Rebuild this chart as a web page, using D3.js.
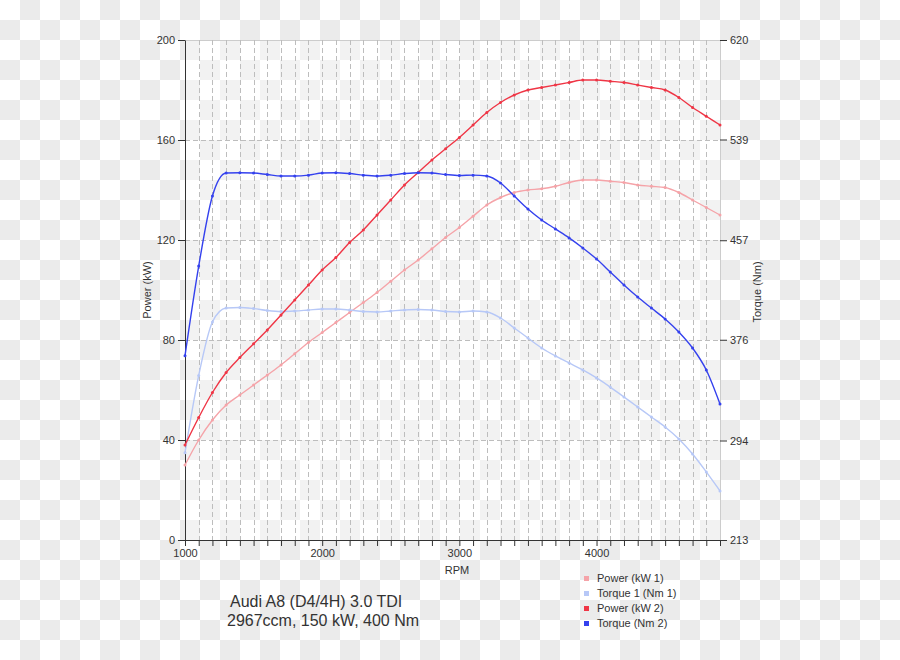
<!DOCTYPE html>
<html>
<head>
<meta charset="utf-8">
<script src="https://cdn.jsdelivr.net/npm/d3@7/dist/d3.min.js"></script>
<style>
    body { margin: 0; background: #fff; }
    text { font-family: "Liberation Sans", Arial, sans-serif; fill: #333; }
</style>
</head>
<body>
<div id="chart"></div>
<script>
// Datos
const rpm = [1000, 1100, 1200, 1300, 1400, 1500, 1600, 1700, 1800, 1900,
             2000, 2100, 2200, 2300, 2400, 2500, 2600, 2700, 2800, 2900,
             3000, 3100, 3200, 3300, 3400, 3500, 3600, 3700, 3800, 3900,
             4000, 4100, 4200, 4300, 4400, 4500, 4600, 4700, 4800, 4900];

// Potencia original (kW 1)
const power1 = [30, 40, 48, 54, 58, 62, 66, 70, 74.5, 79,
                83, 87, 91, 95, 99, 103.5, 108, 112, 116.5, 121,
                125, 129.5, 134, 137, 139, 140, 140.5, 141.5, 143, 144,
                144, 143.5, 143, 142, 141.5, 141, 139, 136, 133, 130];

// Par original (Nm 1)
const torque1 = [284, 347, 390.5, 401.8, 402.3, 401.4, 399.8, 399, 399.4, 400.2,
                 401, 401, 400.2, 399, 398.6, 399.4, 400.2, 400.6, 400.2, 399,
                 398.6, 399.4, 398.6, 393.7, 385.6, 377.4, 369.3, 362.8, 357.1, 351.4,
                 344.9, 337.5, 329.4, 321.3, 313.1, 305, 295.2, 283, 268.4, 252.9];

// Potencia modificada (kW 2)
const power2 = [38, 49, 59, 67, 73, 78.5, 84, 90, 96, 102,
                108, 113, 119, 124, 130, 136, 142, 147, 152, 156.5,
                161, 166, 171, 175, 178, 180, 181, 182, 183, 184,
                184, 183.5, 183, 182, 181, 180, 177, 173, 169.5, 166];

// Par modificado (Nm 2)
const torque2 = [363, 436, 493, 511.7, 512, 511.7, 510.5, 509.3, 509.3, 510,
                 511.7, 512, 511.3, 510, 509.3, 510, 511.3, 512, 511.7, 510.5,
                 509.7, 510, 509.3, 503.6, 493, 482.4, 473.5, 466.2, 458.9, 450.7,
                 441.7, 431.2, 420.6, 410.8, 401.8, 392.9, 382.3, 369.3, 351.4, 323.7];

const powerTicks = [0, 40, 80, 120, 160, 200];
const torqueTicks = [213, 294, 376, 457, 539, 620];
const rpmLabels = [1000, 2000, 3000, 4000];

const legendNames = ["Power (kW 1)", "Torque 1 (Nm 1)", "Power (kW 2)", "Torque (Nm 2)"];
const titleLines = ["Audi A8 (D4/4H) 3.0 TDI", "2967ccm, 150 kW, 400 Nm"];

function drawChart() {
    const width = 900, height = 660;
    const left = 185, right = 720, top = 40, bottom = 540;

    const svg = d3.select("#chart").append("svg")
        .attr("width", width)
        .attr("height", height);

    // Fondo de cuadros (transparencia)
    const pattern = svg.append("defs").append("pattern")
        .attr("id", "checker")
        .attr("width", 40).attr("height", 40)
        .attr("patternUnits", "userSpaceOnUse");
    pattern.append("rect").attr("width", 40).attr("height", 40).attr("fill", "#fff");
    pattern.append("rect").attr("x", 20).attr("y", 0).attr("width", 20).attr("height", 20).attr("fill", "#ebebeb");
    pattern.append("rect").attr("x", 0).attr("y", 20).attr("width", 20).attr("height", 20).attr("fill", "#ebebeb");
    svg.append("rect").attr("width", width).attr("height", height).attr("fill", "url(#checker)");

    // Escalas
    const x = d3.scaleLinear().domain([1000, 4900]).range([left, right]);
    const yPower = d3.scaleLinear().domain([0, 200]).range([bottom, top]);
    const yTorque = d3.scaleLinear().domain([213, 620]).range([bottom, top]);

    // Área del gráfico
    svg.append("rect")
        .attr("x", left).attr("y", top)
        .attr("width", right - left).attr("height", bottom - top)
        .attr("fill", "#fff").attr("fill-opacity", 0.35);

    svg.append("line")
        .attr("x1", left).attr("x2", right)
        .attr("y1", top + 0.5).attr("y2", top + 0.5)
        .attr("stroke", "#ccc");

    // Rejilla discontinua
    const grid = svg.append("g")
        .attr("stroke", "#bdbdbd")
        .attr("stroke-dasharray", "5,3")
        .attr("shape-rendering", "crispEdges");

    grid.selectAll(".v")
        .data(rpm.slice(1, -1))
        .enter().append("line")
        .attr("x1", d => Math.round(x(d)) + 0.5).attr("x2", d => Math.round(x(d)) + 0.5)
        .attr("y1", top).attr("y2", bottom);

    grid.selectAll(".h")
        .data(powerTicks.slice(1, -1))
        .enter().append("line")
        .attr("x1", left).attr("x2", right)
        .attr("y1", d => yPower(d) + 0.5).attr("y2", d => yPower(d) + 0.5);

    // Ejes
    const axisLeft = svg.append("g")
        .attr("transform", `translate(${left},0)`)
        .call(d3.axisLeft(yPower).tickValues(powerTicks).tickSize(7).tickSizeOuter(0).tickPadding(3));

    const axisRight = svg.append("g")
        .attr("transform", `translate(${right},0)`)
        .call(d3.axisRight(yTorque).tickValues(torqueTicks).tickSize(7).tickSizeOuter(0).tickPadding(3));
    axisRight.select(".domain").attr("stroke", "#ccc");

    const axisBottom = svg.append("g")
        .attr("transform", `translate(0,${bottom})`)
        .call(d3.axisBottom(x).tickValues(rpm).tickSize(6).tickSizeOuter(0).tickPadding(3)
            .tickFormat(d => rpmLabels.includes(d) ? d : ""));

    [axisLeft, axisRight, axisBottom].forEach(ax => {
        ax.selectAll("text")
            .style("font-size", "11px")
            .style("font-family", "\"Liberation Sans\", Arial, sans-serif")
            .attr("fill", "#333");
        ax.selectAll(".tick line").attr("stroke", "#333");
    });
    axisLeft.select(".domain").attr("stroke", "#333");
    axisBottom.select(".domain").attr("stroke", "#333");

    // Títulos de ejes
    svg.append("text")
        .attr("x", 457).attr("y", 574)
        .attr("text-anchor", "middle")
        .style("font-size", "11px")
        .text("RPM");

    svg.append("text")
        .attr("transform", "translate(151,290) rotate(-90)")
        .attr("text-anchor", "middle")
        .style("font-size", "11px")
        .text("Power (kW)");

    svg.append("text")
        .attr("transform", "translate(761,292) rotate(-90)")
        .attr("text-anchor", "middle")
        .style("font-size", "11px")
        .text("Torque (Nm)");

    // Series
    const series = [
        { name: legendNames[0], values: power1, scale: yPower, color: "#f5a3a8" },
        { name: legendNames[1], values: torque1, scale: yTorque, color: "#b7c8f7" },
        { name: legendNames[2], values: power2, scale: yPower, color: "#ef3545" },
        { name: legendNames[3], values: torque2, scale: yTorque, color: "#3441ee" }
    ];

    series.forEach(s => {
        const points = rpm.map((r, i) => ({ r: r, v: s.values[i] }));
        const line = d3.line()
            .x(d => x(d.r))
            .y(d => s.scale(d.v))
            .curve(d3.curveMonotoneX);

        svg.append("path")
            .datum(points)
            .attr("fill", "none")
            .attr("stroke", s.color)
            .attr("stroke-width", 1.4)
            .attr("d", line);

        svg.append("g")
            .selectAll("circle")
            .data(points)
            .enter().append("circle")
            .attr("cx", d => x(d.r))
            .attr("cy", d => s.scale(d.v))
            .attr("r", 1.5)
            .attr("fill", s.color);
    });

    // Leyenda
    const legend = svg.append("g").attr("transform", "translate(584,582)");
    series.forEach((s, i) => {
        legend.append("rect")
            .attr("x", 0).attr("y", i * 15 - 6)
            .attr("width", 5).attr("height", 5)
            .attr("fill", s.color);
        legend.append("text")
            .attr("x", 13).attr("y", i * 15)
            .style("font-size", "11px")
            .text(s.name);
    });

    // Título del vehículo
    svg.append("text")
        .attr("x", 230).attr("y", 607)
        .style("font-size", "16px")
        .text(titleLines[0]);
    svg.append("text")
        .attr("x", 227).attr("y", 626)
        .style("font-size", "16px")
        .text(titleLines[1]);
}

drawChart();
</script>
</body>
</html>
